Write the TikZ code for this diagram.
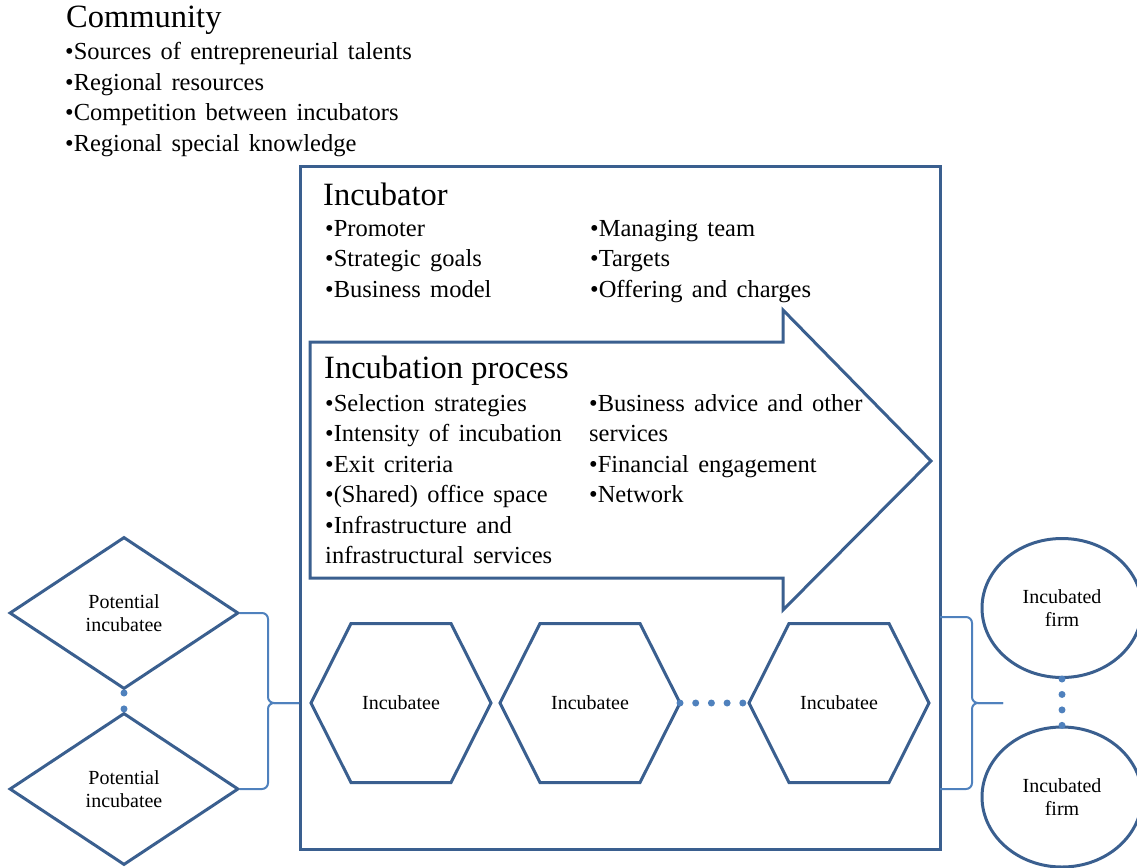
\documentclass[tikz,border=0pt]{standalone}
\usepackage{fontspec}
\setmainfont{Liberation Serif}
\usetikzlibrary{shapes.geometric}
\definecolor{outl}{HTML}{3A5F8F}
\definecolor{accent}{HTML}{4F81BD}
% slightly wider inter-word spaces for the bullet lists
\newcommand{\listfont}{\fontsize{24.5}{30.4}\selectfont\spaceskip=0.38em plus 0.1em minus 0.05em\relax}
\begin{document}
\begin{tikzpicture}[x=1pt,y=-1pt,
  outline/.style={draw=outl, line width=3pt, line join=miter},
  title/.style={anchor=base west, inner sep=0pt, font=\fontsize{32.5}{36}\selectfont},
  % bullet blocks are anchored at the baseline of their last line
  blist/.style={anchor=base west, inner sep=0pt, align=left, font=\listfont},
  lbl/.style={font=\fontsize{20}{23.5}\selectfont, align=center, inner sep=0pt},
  brace/.style={draw=accent, line width=2pt, rounded corners=6pt},
  dotline/.style={draw=accent, line width=7pt, line cap=round, dash pattern=on 0pt off 15.7pt}]
\useasboundingbox (0,0) rectangle (1137,867);

% community factors
\node[title] (comm) at (66,28) {Community};
\node[blist] (commlist) at (65,151) {•Sources of entrepreneurial talents\\•Regional resources\\•Competition between incubators\\•Regional special knowledge};

% incubator frame
\node[outline, rectangle, minimum width=640pt, minimum height=683pt, anchor=north west, inner sep=0pt] (box) at (299,165) {};
\node[title] (inc) at (323,205) {Incubator};
\node[blist] (incL) at (325,297.3) {•Promoter\\•Strategic goals\\•Business model};
\node[blist] (incR) at (590,297.3) {•Managing team\\•Targets\\•Offering and charges};

% incubation process arrow
\draw[outline] (310,342) -- (783,342) -- (783,310) -- (931,461) -- (783,610) -- (783,578) -- (310,578) -- cycle;
\node[title] (proc) at (324,378) {Incubation process};
\node[blist] (procL) at (325,563.5) {•Selection strategies\\•Intensity of incubation\\•Exit criteria\\•(Shared) office space\\•Infrastructure and\\infrastructural services};
\node[blist] (procR) at (589,502.7) {•Business advice and other\\services\\•Financial engagement\\•Network};

% incubatees
\foreach \n/\cx in {1/401, 2/590, 3/839} {
  \node[lbl] (h\n) at (\cx,703) {Incubatee};
  \draw[outline, shift={(h\n)}] (-90,0) coordinate (h\n w) -- (-50,-79.5) -- (50,-79.5) -- (90,0) coordinate (h\n e) -- (50,79.5) -- (-50,79.5) -- cycle;
}
\draw[dotline] (h2e) -- (h3w);

% potential incubatees
\node[diamond, outline, minimum width=229pt, minimum height=152pt, lbl] (d1) at (124,613) {Potential\\incubatee};
\node[diamond, outline, minimum width=229pt, minimum height=152pt, lbl] (d2) at (124,789) {Potential\\incubatee};
\draw[dotline, dash pattern=on 0pt off 15.9pt] ([yshift=-2.5pt]d1.south) -- ([yshift=2.5pt]d2.north);

% incubated firms
\node[ellipse, outline, minimum width=160pt, minimum height=139pt, lbl] (f1) at (1062,608) {Incubated\\firm};
\node[ellipse, outline, minimum width=160pt, minimum height=140pt, lbl] (f2) at (1062,797) {Incubated\\firm};
\draw[dotline, dash pattern=on 0pt off 15.45pt] (f1.south) -- (f2.north);

% braces
\coordinate (ltip) at (299,703);
\draw[brace] (d1.east) -| (268,703) -- (ltip);
\draw[brace] (d2.east) -| (268,703) -- (ltip);
\coordinate (rtop) at (940,617);
\coordinate (rbot) at (940,789);
\coordinate (rtip) at (1003,703);
\draw[brace] (rtop) -| (972,703) -- (rtip);
\draw[brace] (rbot) -| (972,703) -- (rtip);
\end{tikzpicture}
\end{document}
